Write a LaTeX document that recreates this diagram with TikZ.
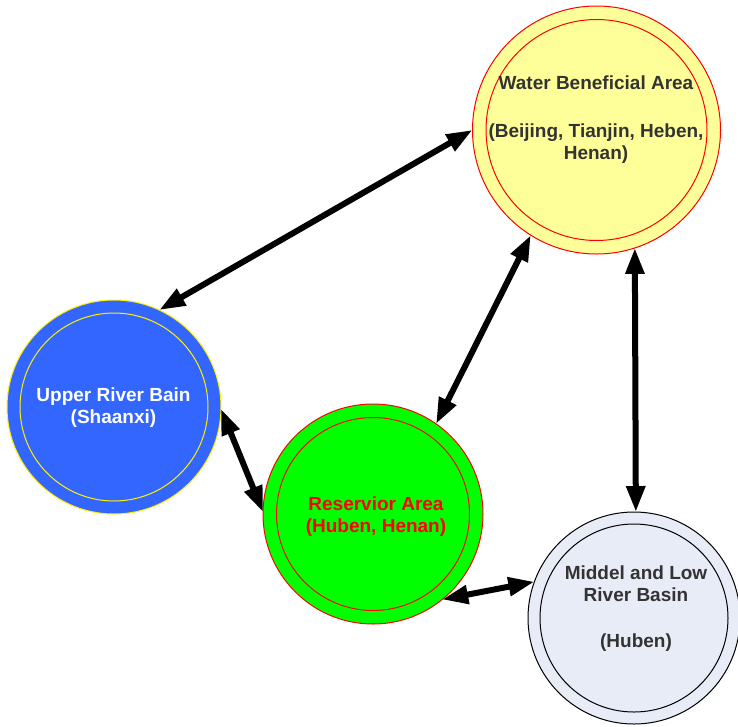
\documentclass[tikz,border=0pt]{standalone}
\usepackage{fontspec}
\setmainfont{Liberation Sans}
\usetikzlibrary{arrows.meta}
\definecolor{wyellow}{HTML}{FFFF99}
\definecolor{ublue}{HTML}{3366FF}
\definecolor{rgreen}{HTML}{00FF00}
\definecolor{mlight}{HTML}{E8ECF6}
\definecolor{tgray}{HTML}{333333}
\begin{document}
\begin{tikzpicture}[x=1pt,y=-1pt,
  area/.style={circle, inner sep=0pt, outer sep=0pt, line width=1pt},
  ring/.style={line width=1pt},
  lbl/.style={font=\fontsize{19}{22}\selectfont\bfseries, align=center, anchor=base, inner sep=0pt},
  link/.style={line width=6pt, {Triangle[length=26pt,width=18pt]}-{Triangle[length=26pt,width=18pt]}}]
\useasboundingbox (0,0) rectangle (738,726);
% circles
\node[area, draw=red, fill=wyellow, minimum size=248pt] (water) at (596.5,130) {};
\draw[ring, red] (water.center) circle[radius=110.5pt];
\node[area, draw=yellow, fill=ublue, minimum size=214pt] (upper) at (114,407) {};
\draw[ring, yellow] (upper.center) circle[radius=94pt];
\node[area, draw=red, fill=rgreen, minimum size=220pt] (res) at (373,514) {};
\draw[ring, red] (res.center) circle[radius=96.5pt];
\node[area, draw=black, fill=mlight, minimum size=212pt] (mid) at (634,618) {};
\draw[ring, black] (mid.center) circle[radius=94pt];
% labels (anchor base = baseline of last line)
\node[lbl, text=tgray] (wlbl) at (596,159) {Water Beneficial Area\\[26pt](Beijing, Tianjin, Heben,\\Henan)};
\node[lbl, text=white] (ulbl) at (113.5,423) {Upper River Bain\\(Shaanxi)};
\node[lbl, text=red] (rlbl) at (376,532) {Reservior Area\\(Huben, Henan)};
\node[lbl, text=tgray] (mlbl) at (636,647) {Middel and Low\\River Basin\\[24pt](Huben)};
% connectors
\draw[link] (water.180) -- (upper.65.6);
\draw[link] (water.238) -- (res.55.7);
\draw[link] (water.288) -- (mid.89.5);
\draw[link] (upper.359.5) -- (res.179);
\draw[link] (res.309.5) -- (mid.160.9);
\end{tikzpicture}
\end{document}
